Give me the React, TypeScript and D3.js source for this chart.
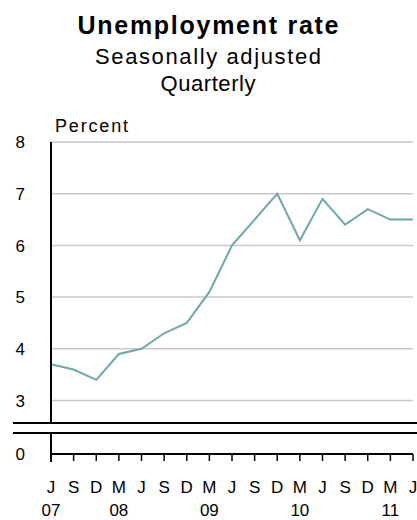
import React from 'react';
import * as d3 from 'd3';

// quarterly, June 2007 .. June 2011
const quarters = ['J07', 'S07', 'D07', 'M08', 'J08', 'S08', 'D08', 'M09', 'J09', 'S09', 'D09', 'M10', 'J10', 'S10', 'D10', 'M11', 'J11'];
const monthLabels = ['J', 'S', 'D', 'M', 'J', 'S', 'D', 'M', 'J', 'S', 'D', 'M', 'J', 'S', 'D', 'M', 'J'];
const rates = [3.7, 3.6, 3.4, 3.9, 4.0, 4.3, 4.5, 5.1, 6.0, 6.5, 7.0, 6.1, 6.9, 6.4, 6.7, 6.5, 6.5];
const yearLabels = [
  { at: 'J07', text: '07' },
  { at: 'M08', text: '08' },
  { at: 'M09', text: '09' },
  { at: 'M10', text: '10' },
  { at: 'M11', text: '11' },
];
const yTicks = [3, 4, 5, 6, 7, 8];

const W = 417;
const H = 520;
const FONT = '"Liberation Sans", Arial, sans-serif';

const App: React.FC = () => {
  const x = d3.scalePoint<string>().domain(quarters).range([51, 413]);
  const y = d3.scaleLinear().domain([3, 8]).range([400.5, 142]);
  const zeroY = 454;

  const line = d3.line<number>()
    .x((_d, i) => x(quarters[i]) as number)
    .y(d => y(d));

  const left = 51;
  const right = 413;

  return (
    <svg width={W} height={H} style={{ position: 'absolute', left: 0, top: 0, background: '#fff' }} fontFamily={FONT}>
      {/* titles */}
      <text x={208} y={34} textAnchor="middle" fontSize={25} fontWeight="bold" textLength={261} lengthAdjust="spacing">Unemployment rate</text>
      <text x={208} y={64} textAnchor="middle" fontSize={22} textLength={226} lengthAdjust="spacing">Seasonally adjusted</text>
      <text x={208} y={91} textAnchor="middle" fontSize={22} textLength={95} lengthAdjust="spacing">Quarterly</text>
      <text x={55} y={132} fontSize={18} textLength={73} lengthAdjust="spacing">Percent</text>

      {/* gridlines */}
      {yTicks.map(t => (
        <line key={t} x1={left} x2={right} y1={y(t)} y2={y(t)} stroke="#c9c9c9" strokeWidth={1.5} />
      ))}

      {/* y tick labels */}
      {yTicks.map(t => (
        <text key={t} x={25} y={y(t)} dy="0.36em" textAnchor="end" fontSize={17}>{t}</text>
      ))}
      <text x={25} y={zeroY} dy="0.36em" textAnchor="end" fontSize={17}>0</text>

      {/* data line */}
      <path d={line(rates) || ''} fill="none" stroke="#6fa8a8" strokeWidth={2} strokeLinejoin="miter" />

      {/* axes and scale break */}
      <line x1={left} x2={left} y1={142} y2={423} stroke="#000" strokeWidth={2} />
      <line x1={13} x2={W} y1={423} y2={423} stroke="#000" strokeWidth={2} />
      <line x1={13} x2={W} y1={433} y2={433} stroke="#000" strokeWidth={2} />
      <line x1={left} x2={left} y1={433} y2={462} stroke="#000" strokeWidth={2} />
      <line x1={left} x2={right} y1={zeroY} y2={zeroY} stroke="#000" strokeWidth={2} />
      {quarters.map(q => (
        <line key={q} x1={x(q)} x2={x(q)} y1={zeroY} y2={461} stroke="#000" strokeWidth={1.5} />
      ))}

      {/* x labels */}
      {quarters.map((q, i) => (
        <text key={q} x={x(q)} y={493} textAnchor="middle" fontSize={17}>{monthLabels[i]}</text>
      ))}
      {yearLabels.map(l => (
        <text key={l.text} x={x(l.at)} y={516} textAnchor="middle" fontSize={17}>{l.text}</text>
      ))}
    </svg>
  );
};

export default App;
